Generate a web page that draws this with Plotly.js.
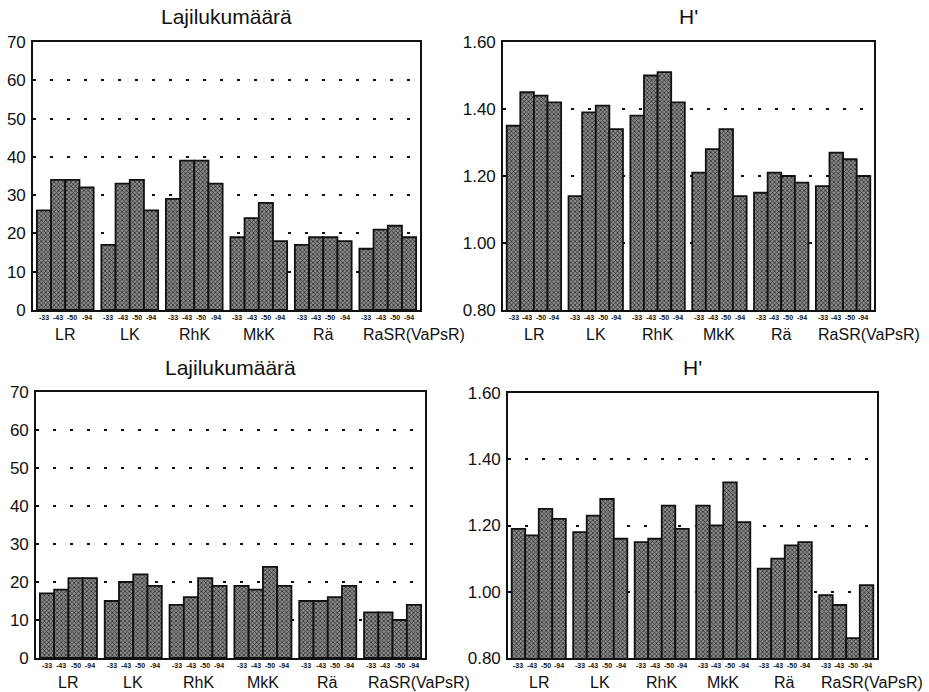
<!DOCTYPE html>
<html>
<head>
<meta charset="utf-8">
<script src="https://cdn.plot.ly/plotly-3.0.1.min.js"></script>
<style>
  html, body { margin: 0; padding: 0; background: #fff; }
  #chart { width: 929px; height: 692px; }
</style>
</head>
<body>
<div id="chart"></div>
<script>
// Sites and sampling years
const groups = ['LR', 'LK', 'RhK', 'MkK', 'Rä', 'RaSR(VaPsR)'];
const years = ['-33', '-43', '-50', '-94'];

// Rows = sites, columns = years (-33, -43, -50, -94)
const speciesUpper = [
  [26, 34, 34, 32],
  [17, 33, 34, 26],
  [29, 39, 39, 33],
  [19, 24, 28, 18],
  [17, 19, 19, 18],
  [16, 21, 22, 19]
];
const diversityUpper = [
  [1.35, 1.45, 1.44, 1.42],
  [1.14, 1.39, 1.41, 1.34],
  [1.38, 1.50, 1.51, 1.42],
  [1.21, 1.28, 1.34, 1.14],
  [1.15, 1.21, 1.20, 1.18],
  [1.17, 1.27, 1.25, 1.20]
];
const speciesLower = [
  [17, 18, 21, 21],
  [15, 20, 22, 19],
  [14, 16, 21, 19],
  [19, 18, 24, 19],
  [15, 15, 16, 19],
  [12, 12, 10, 14]
];
const diversityLower = [
  [1.19, 1.17, 1.25, 1.22],
  [1.18, 1.23, 1.28, 1.16],
  [1.15, 1.16, 1.26, 1.19],
  [1.26, 1.20, 1.33, 1.21],
  [1.07, 1.10, 1.14, 1.15],
  [0.99, 0.96, 0.86, 1.02]
];

const titles = ['Lajilukumäärä', "H'", 'Lajilukumäärä', "H'"];

const W = 929, H = 692;
const BARGAP = 0.12;
const FONT = 'Liberation Sans, Arial, Helvetica, sans-serif';

// Panel frames in pixels: [left, right, top, bottom]
const frames = [
  [33, 420, 42, 310],
  [503, 874, 42, 310],
  [36, 425, 392, 658],
  [508, 877, 393, 658]
];

const panels = [
  { data: speciesUpper, range: [0, 70], dtick: 10, fmt: 'd' },
  { data: diversityUpper, range: [0.8, 1.6], dtick: 0.2, fmt: '.2f' },
  { data: speciesLower, range: [0, 70], dtick: 10, fmt: 'd' },
  { data: diversityLower, range: [0.8, 1.6], dtick: 0.2, fmt: '.2f' }
];

const traces = [];
const layout = {
  width: W, height: H,
  margin: { l: 0, r: 0, t: 0, b: 0 },
  paper_bgcolor: '#fff', plot_bgcolor: '#fff',
  showlegend: false,
  barmode: 'group',
  bargap: BARGAP,
  bargroupgap: 0,
  font: { family: FONT, color: '#111' },
  annotations: []
};

panels.forEach((p, pi) => {
  const suffix = pi === 0 ? '' : String(pi + 1);
  const xa = 'x' + suffix, ya = 'y' + suffix;
  const [l, r, t, b] = frames[pi];

  years.forEach((yr, k) => {
    traces.push({
      type: 'bar',
      x: groups,
      y: p.data.map(row => row[k]),
      xaxis: xa, yaxis: ya,
      name: yr,
      marker: {
        color: '#666',
        line: { color: '#111', width: 1.8 },
        pattern: { shape: 'x', fgcolor: '#222', bgcolor: '#8a8a8a', size: 3, solidity: 0.4 }
      },
      hoverinfo: 'x+y'
    });
  });

  layout['xaxis' + suffix] = {
    domain: [l / W, r / W],
    anchor: ya,
    type: 'category',
    range: [-0.5, groups.length - 0.5],
    showline: true, linecolor: '#111', linewidth: 1.8, mirror: true,
    showgrid: false, zeroline: false, ticks: '',
    showticklabels: false,
    fixedrange: true
  };
  layout['yaxis' + suffix] = {
    domain: [1 - b / H, 1 - t / H],
    anchor: xa,
    range: p.range,
    dtick: p.dtick,
    tick0: p.range[0],
    tickformat: p.fmt,
    showline: true, linecolor: '#111', linewidth: 1.8, mirror: true,
    showgrid: true, gridcolor: '#111', gridwidth: 2, griddash: '2.5px,14.5px',
    zeroline: false, ticks: '',
    tickfont: { size: 17, family: FONT, color: '#111' },
    ticklabelstandoff: 2,
    fixedrange: true
  };

  // Panel title
  layout.annotations.push({
    text: titles[pi],
    xref: 'paper', yref: 'paper',
    x: (l + r) / 2 / W, y: 1 - (t - 25) / H,
    xanchor: 'center', yanchor: 'middle',
    showarrow: false,
    font: { size: 21, family: FONT, color: '#111' }
  });

  const slot = (1 - BARGAP) / years.length;
  groups.forEach((g, gi) => {
    // Site name under each group; the long last name is nudged right
    layout.annotations.push({
      text: g,
      xref: xa, yref: ya + ' domain',
      x: gi, y: 0, yanchor: 'top', yshift: -14,
      xanchor: 'center',
      xshift: gi === groups.length - 1 ? 26 : 0,
      showarrow: false,
      font: { size: 16, family: FONT, color: '#111' }
    });
    // Year labels under each bar
    years.forEach((yr, k) => {
      layout.annotations.push({
        text: '<b>' + yr + '</b>',
        xref: xa, yref: ya + ' domain',
        x: gi + (k - (years.length - 1) / 2) * slot,
        y: 0, yanchor: 'top', yshift: -2,
        xanchor: 'center',
        showarrow: false,
        font: { size: 7, family: FONT, color: '#111' }
      });
    });
  });
});

Plotly.newPlot('chart', traces, layout, { displayModeBar: false, staticPlot: true });
</script>
</body>
</html>
